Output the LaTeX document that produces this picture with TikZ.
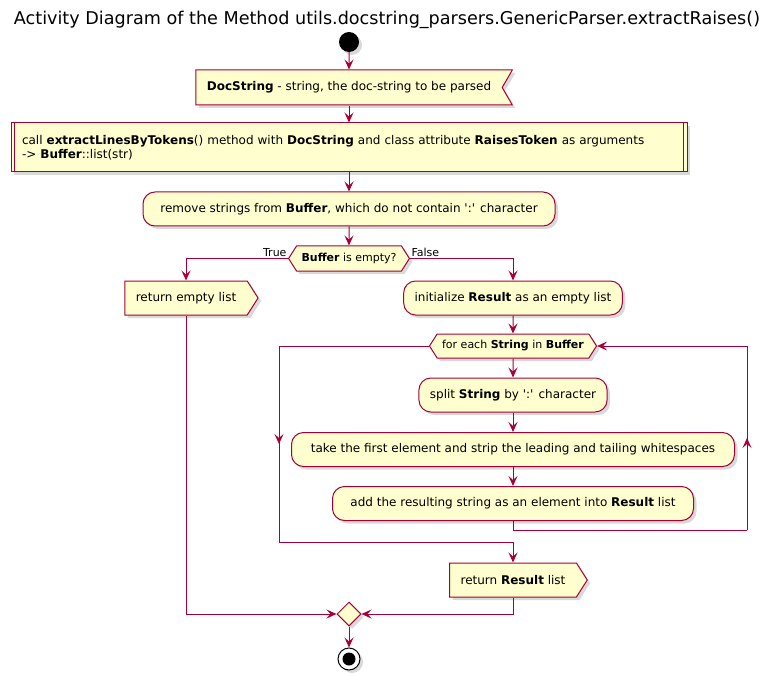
\documentclass[tikz,border=0pt]{standalone}
\usepackage{fontspec}
\setmainfont{DejaVu Sans}
\usetikzlibrary{arrows.meta,shapes.geometric,shapes.symbols,shadows,decorations.markings}
\definecolor{umlred}{HTML}{A80036}
\definecolor{umlfill}{HTML}{FEFECE}

\begin{document}
\begin{tikzpicture}[x=1pt,y=-1pt,>={Stealth[length=10pt,width=9pt,inset=4pt]},
  every node/.style={font=\fontsize{12}{14}\selectfont},
  boxbase/.style={draw=umlred,fill=umlfill,line width=1pt,
    drop shadow={shadow xshift=3pt,shadow yshift=-3pt,opacity=0.3}},
  action/.style={boxbase,rectangle,rounded corners=12pt,minimum height=34pt,inner xsep=11pt},
  sendbox/.style={boxbase,signal,signal to=east,signal pointer angle=115,
    minimum height=34pt,inner xsep=11pt},
  recvbox/.style={boxbase,signal,signal to=nowhere,signal from=east,signal pointer angle=120,
    minimum height=35pt,inner xsep=11pt},
  subbox/.style={boxbase,rectangle,align=left,minimum height=49pt,inner xsep=11pt},
  choice/.style={boxbase,signal,signal to=west and east,signal pointer angle=115,
    minimum height=25pt,inner xsep=5pt,inner ysep=2pt,font=\fontsize{11}{13}\selectfont},
  merger/.style={boxbase,diamond,minimum width=24pt,minimum height=24pt,inner sep=0pt},
  guard/.style={font=\fontsize{11}{13}\selectfont,inner sep=1pt},
  flow/.style={->,draw=umlred,line width=1pt},
  link/.style={draw=umlred,line width=1pt},
  midarrow/.style={postaction={decorate},decoration={markings,
    mark=at position 0.5 with {\arrow{Stealth[length=10pt,width=9pt,inset=4pt]}}}}]
  \useasboundingbox (0,0) rectangle (773,676);

  \node[font=\fontsize{17.6}{20}\selectfont] (title) at (387,20)
    {Activity Diagram of the Method utils.docstring\_parsers.GenericParser.extractRaises()};
  \node[circle,fill=black,minimum size=20pt,inner sep=0pt,
    drop shadow={shadow xshift=3pt,shadow yshift=-3pt,opacity=0.3}] (start) at (349,42) {};

  % main column
  \node[recvbox] (docstr) at (349,87.5) {\textbf{DocString} - string, the doc-string to be parsed};
  \node[subbox,text width=654pt] (call) at (349,147.5)
    {call \textbf{extractLinesByTokens}() method with \textbf{DocString} and class attribute \textbf{RaisesToken} as arguments\\
     -> \textbf{Buffer}::list(str)};
  \draw[link] ([xshift=4pt]call.north west) -- ([xshift=4pt]call.south west);
  \draw[link] ([xshift=-4pt]call.north east) -- ([xshift=-4pt]call.south east);
  \node[action,minimum width=412pt] (remove) at (349,209)
    {remove strings from \textbf{Buffer}, which do not contain \textquotesingle:\textquotesingle{} character};
  \node[choice] (decide) at (349,258.5) {\textbf{Buffer} is empty?};

  % branches
  \node[sendbox] (retempty) at (186,298) {return empty list};
  \node[action] (init) at (513,298) {initialize \textbf{Result} as an empty list};
  \node[choice,minimum height=24pt] (loop) at (513,346) {for each \textbf{String} in \textbf{Buffer}};
  \node[action] (split) at (513,395) {split \textbf{String} by \textquotesingle:\textquotesingle{} character};
  \node[action,minimum width=443pt] (take) at (513,449.5)
    {take the first element and strip the leading and tailing whitespaces};
  \node[action,minimum width=361pt] (add) at (513,503.5)
    {add the resulting string as an element into \textbf{Result} list};
  \node[sendbox] (retresult) at (513,580) {return \textbf{Result} list};

  \node[merger] (merge) at (349,614) {};
  \node[circle,draw=black,fill=white,line width=1pt,minimum size=22pt,inner sep=0pt,
    drop shadow={shadow xshift=3pt,shadow yshift=-3pt,opacity=0.3},
    path picture={\fill[black] (path picture bounding box.center) circle (6.5pt);}] (stop) at (349,659) {};

  \coordinate (loopTL) at (279,346);
  \coordinate (loopBL) at (279,542);
  \coordinate (backB) at (747,530);
  \coordinate (backT) at (747,346);

  % connectors
  \draw[flow] (start) -- (docstr);
  \draw[flow] (docstr) -- (call);
  \draw[flow] (call) -- (remove);
  \draw[flow] (remove) -- (decide);
  \draw[flow] (decide.west) -| (retempty.north) node[guard,pos=0,anchor=south east] {True};
  \draw[flow] (decide.east) -| (init.north) node[guard,pos=0,anchor=south west] {False};
  \draw[flow] (init) -- (loop);
  \draw[flow] (loop) -- (split);
  \draw[flow] (split) -- (take);
  \draw[flow] (take) -- (add);
  \draw[link] (add.south) |- (backB);
  \draw[link,midarrow] (backB) -- (backT);
  \draw[flow] (backT) -- (loop.east);
  \draw[link] (loop.west) -- (loopTL);
  \draw[link,midarrow] (loopTL) -- (loopBL);
  \draw[flow] (loopBL) -| (retresult.north);
  \draw[flow] (retempty.south) |- (merge.west);
  \draw[flow] (retresult.south) |- (merge.east);
  \draw[flow] (merge) -- (stop);
\end{tikzpicture}
\end{document}
